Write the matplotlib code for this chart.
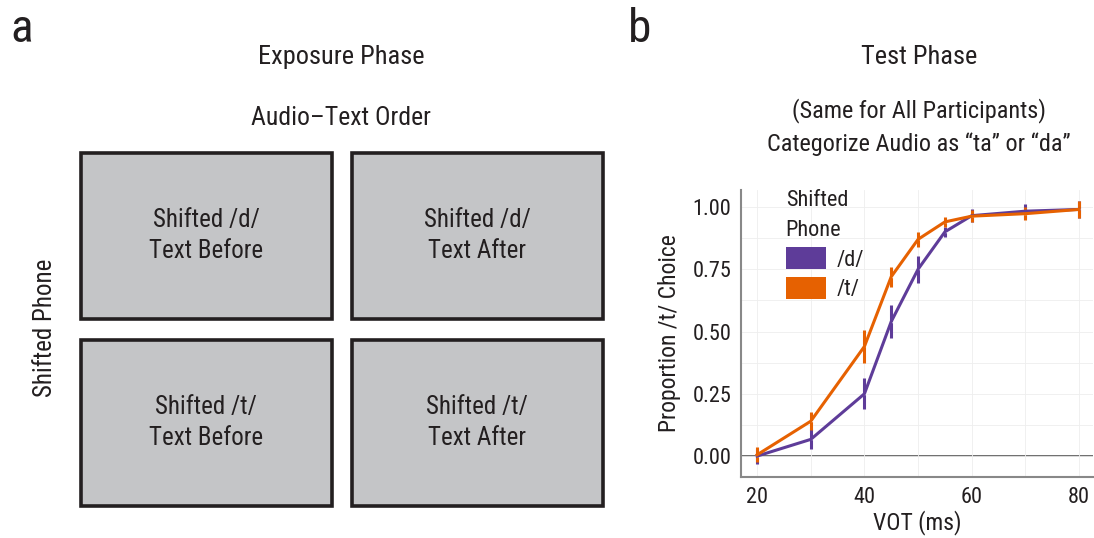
import matplotlib
matplotlib.use("Agg")
import matplotlib.pyplot as plt
from matplotlib import font_manager
from matplotlib.patches import Rectangle, Patch
from matplotlib.ticker import MultipleLocator

# pick a condensed sans if one is around
have = set(f.name for f in font_manager.fontManager.ttflist)
cands = ['Roboto Condensed', 'Liberation Sans Narrow', 'Archivo Narrow',
         'PT Sans Narrow', 'Liberation Sans']
fam = [c for c in cands if c in have][:1] + ['DejaVu Sans']
plt.rcParams['font.family'] = fam

# data
vot = [20, 30, 40, 45, 50, 55, 60, 70, 80]
prop_d = [0.00, 0.067, 0.25, 0.54, 0.75, 0.90, 0.965, 0.983, 0.99]
err_d = [0.03, 0.04, 0.063, 0.065, 0.055, 0.02, 0.025, 0.03, 0.035]
prop_t = [0.005, 0.14, 0.44, 0.72, 0.87, 0.94, 0.963, 0.973, 0.99]
err_t = [0.03, 0.037, 0.065, 0.04, 0.03, 0.02, 0.025, 0.025, 0.035]

box_labels = [["Shifted /d/\nText Before", "Shifted /d/\nText After"],
              ["Shifted /t/\nText Before", "Shifted /t/\nText After"]]

col_d = "#5e3c99"
col_t = "#e66101"
txt_col = "#231f20"
W, H = 1094, 538

fig = plt.figure(figsize=(W / 100, H / 100), dpi=100)

# ---- panel a : schematic drawn in pixel coords
axa = fig.add_axes([0, 0, 1, 1])
axa.set_xlim(0, W)
axa.set_ylim(H, 0)
axa.axis("off")

axa.text(10, 29, "a", fontsize=34, ha="left", va="center", color=txt_col)
axa.text(628, 29, "b", fontsize=34, ha="left", va="center", color=txt_col)
axa.text(341, 57, "Exposure Phase", fontsize=19, ha="center", va="center", color=txt_col)
axa.text(341, 118, "Audio\u2013Text Order", fontsize=18.5, ha="center", va="center", color=txt_col)
axa.text(45, 328, "Shifted Phone", fontsize=18, rotation=90, ha="center", va="center",
         color=txt_col)

xs = [80.5, 351.5]
ys = [152.5, 339.5]
bw, bh = 251, 166
for r in range(2):
    for c in range(2):
        axa.add_patch(Rectangle((xs[c], ys[r]), bw, bh, facecolor="#c4c5c7",
                                edgecolor="#231f20", linewidth=2.6))
        axa.text(xs[c] + bw / 2, ys[r] + bh / 2, box_labels[r][c], fontsize=18,
                 ha="center", va="center", linespacing=1.4, color="#231f20")

axa.text(919, 57, "Test Phase", fontsize=19, ha="center", va="center", color=txt_col)
axa.text(919, 111, "(Same for All Participants)", fontsize=17.5, ha="center", va="center",
         color=txt_col)
axa.text(919, 144, "Categorize Audio as \u201cta\u201d or \u201cda\u201d", fontsize=17.5,
         ha="center", va="center", color=txt_col)

# ---- panel b : identification curves
ax = fig.add_axes([741 / W, 1 - 477 / H, 352 / W, 287 / H])
ax.errorbar(vot, prop_d, yerr=err_d, color=col_d, lw=2.2, elinewidth=2.2, capsize=0)
ax.errorbar(vot, prop_t, yerr=err_t, color=col_t, lw=2.2, elinewidth=2.2, capsize=0)
ax.plot(vot, prop_d, ls="none", marker="_", ms=3, mew=1, color="white")
ax.plot(vot, prop_t, ls="none", marker="_", ms=3, mew=1, color="white")
ax.axhline(0, color="#555555", lw=1.2, zorder=0)

ax.set_xlim(17, 82.6)
ax.set_ylim(-0.084, 1.068)
ax.set_xticks([20, 40, 60, 80])
ax.set_yticks([0, 0.25, 0.5, 0.75, 1.0])
ax.set_yticklabels(["0.00", "0.25", "0.50", "0.75", "1.00"])
ax.xaxis.set_minor_locator(MultipleLocator(10))
ax.yaxis.set_minor_locator(MultipleLocator(0.125))
ax.grid(which="both", color="#eeeeee", lw=0.6)
ax.set_axisbelow(True)
ax.tick_params(which="both", length=0, labelsize=16, pad=7, labelcolor=txt_col)
for s in ["top", "right"]:
    ax.spines[s].set_visible(False)
for s in ["left", "bottom"]:
    ax.spines[s].set_color("#888888")
    ax.spines[s].set_linewidth(1.5)
ax.set_xlabel("VOT (ms)", fontsize=17, labelpad=2, color=txt_col)
ax.set_ylabel("Proportion /t/ Choice", fontsize=17, labelpad=8, color=txt_col)

handles = [Patch(facecolor=col_d), Patch(facecolor=col_t)]
leg = ax.legend(handles, ["/d/", "/t/"], title="Shifted\nPhone", loc="upper left",
                bbox_to_anchor=(0.07, 1.07), frameon=False, fontsize=16,
                title_fontsize=16, handlelength=1.8, handleheight=1.1,
                labelspacing=0.3, handletextpad=0.5, alignment="left")
leg.get_title().set_linespacing(1.55)
leg.get_title().set_color(txt_col)
for t in leg.get_texts():
    t.set_color(txt_col)

fig.savefig("out.png", dpi=100)
